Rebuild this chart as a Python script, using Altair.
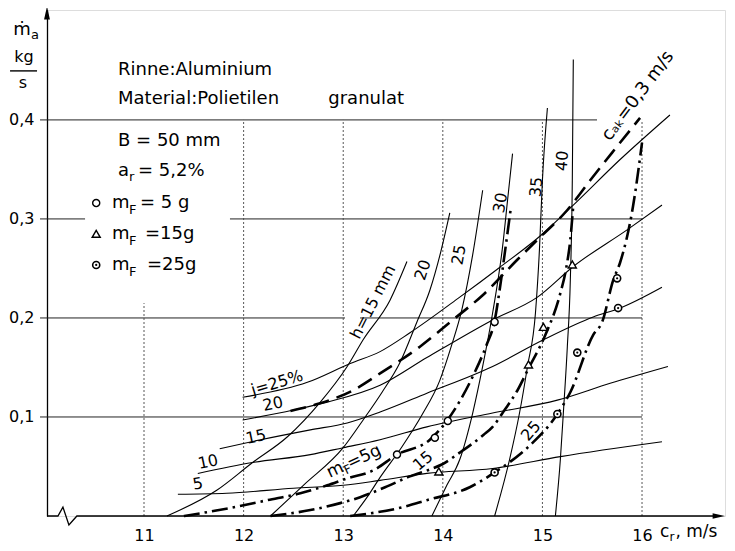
import altair as alt
import pandas as pd

FONT = "DejaVu Sans"
X_MIN, X_MAX = 10.026, 16.833
Y_MAX = 0.511
X_TICKS = [11, 12, 13, 14, 15, 16]
Y_TICKS = [0.1, 0.2, 0.3, 0.4]

# thin solid curves, h = 15 ... 40 mm
H15_CR = [11.23, 11.73, 12.09, 12.44, 12.77, 13.04, 13.20, 13.47, 13.64]
H15_MA = [0.0, 0.026, 0.054, 0.080, 0.115, 0.151, 0.178, 0.218, 0.257]
H20_CR = [12.27, 12.60, 13.00, 13.20, 13.39, 13.57, 13.74, 13.87, 13.98, 14.07]
H20_MA = [0.0, 0.031, 0.069, 0.097, 0.125, 0.155, 0.196, 0.228, 0.267, 0.306]
H25_CR = [13.10, 13.24, 13.37, 13.59, 13.79, 13.97, 14.09, 14.19, 14.30, 14.40]
H25_MA = [0.0, 0.019, 0.039, 0.070, 0.102, 0.137, 0.173, 0.208, 0.264, 0.329]
H30_CR = [13.89, 14.04, 14.17, 14.30, 14.40, 14.50, 14.60, 14.65, 14.70]
H30_MA = [0.0, 0.031, 0.057, 0.104, 0.151, 0.205, 0.272, 0.319, 0.366]
H35_CR = [14.52, 14.67, 14.77, 14.85, 14.93, 14.97, 15.00, 15.05]
H35_MA = [0.0, 0.057, 0.104, 0.151, 0.205, 0.269, 0.339, 0.412]
H40_CR = [15.13, 15.18, 15.21, 15.25, 15.28, 15.30, 15.31]
H40_MA = [0.0, 0.057, 0.104, 0.171, 0.238, 0.339, 0.461]

# thin solid curves, j = 5 ... 25 %
J25_CR = [11.99, 12.64, 13.07, 13.37, 13.67, 14.17, 14.57, 14.98, 15.31, 15.78, 16.28]
J25_MA = [0.120, 0.135, 0.154, 0.166, 0.185, 0.221, 0.251, 0.283, 0.314, 0.360, 0.405]
J20_CR = [11.99, 12.50, 12.84, 13.37, 13.84, 14.50, 14.95, 15.31, 15.85, 16.20]
J20_MA = [0.097, 0.107, 0.115, 0.132, 0.160, 0.198, 0.221, 0.252, 0.289, 0.314]
J15_CR = [11.76, 12.17, 12.67, 13.04, 13.37, 13.84, 14.50, 15.01, 15.51, 15.78, 16.20]
J15_MA = [0.068, 0.077, 0.087, 0.094, 0.105, 0.124, 0.151, 0.178, 0.201, 0.210, 0.231]
J10_CR = [11.54, 12.09, 12.67, 13.00, 13.37, 13.84, 14.50, 15.15, 15.68, 16.26]
J10_MA = [0.043, 0.054, 0.062, 0.069, 0.077, 0.090, 0.104, 0.117, 0.134, 0.151]
J05_CR = [11.34, 11.83, 12.50, 13.00, 13.37, 13.84, 14.50, 15.18, 16.20]
J05_MA = [0.022, 0.023, 0.028, 0.031, 0.036, 0.043, 0.048, 0.060, 0.075]

# long-dash curve c_ak = 0.3 m/s
CAK_CR = [12.47, 12.74, 13.10, 13.37, 13.77, 14.10, 14.40, 14.75, 14.95, 15.25, 15.48, 15.70, 15.98]
CAK_MA = [0.106, 0.113, 0.127, 0.144, 0.171, 0.198, 0.223, 0.259, 0.279, 0.309, 0.339, 0.367, 0.402]

# dash-dot curves m_F = 5, 15, 25 g
MF5_CR = [11.40, 11.86, 12.24, 12.57, 12.84, 13.04, 13.30, 13.54, 13.87, 14.04, 14.32, 14.44, 14.52, 14.57, 14.62, 14.68]
MF5_MA = [0.0, 0.008, 0.016, 0.023, 0.031, 0.038, 0.046, 0.062, 0.077, 0.096, 0.145, 0.173, 0.197, 0.228, 0.264, 0.309]
MF15_CR = [12.27, 12.67, 12.97, 13.17, 13.42, 13.67, 13.87, 13.99, 14.17, 14.41, 14.50, 14.62, 14.75, 14.86, 15.03, 15.18, 15.24, 15.28, 15.31]
MF15_MA = [0.0, 0.006, 0.013, 0.019, 0.029, 0.040, 0.047, 0.052, 0.064, 0.082, 0.090, 0.107, 0.127, 0.149, 0.183, 0.225, 0.251, 0.279, 0.314]
MF25_CR = [13.07, 13.60, 13.84, 14.27, 14.52, 14.85, 15.15, 15.28, 15.51, 15.60, 15.71, 15.78, 15.91, 16.00]
MF25_MA = [0.0, 0.009, 0.016, 0.029, 0.044, 0.069, 0.103, 0.125, 0.183, 0.196, 0.238, 0.256, 0.313, 0.377]

# measured points
P5_CR = [13.54, 13.92, 14.05, 14.52]
P5_MA = [0.062, 0.079, 0.096, 0.196]
P15_CR = [13.96, 14.86, 15.01, 15.30]
P15_MA = [0.045, 0.153, 0.191, 0.254]
P25_CR = [14.52, 15.15, 15.35, 15.76, 15.75]
P25_MA = [0.044, 0.103, 0.165, 0.210, 0.240]

# legend symbols
LEG_CR = 10.52
LEG_MA = [0.316, 0.285, 0.2535]

# grid segments
HG_MA = [0.4, 0.3, 0.3, 0.2, 0.2, 0.1]
HG_FROM = [9.956, 9.956, 11.863, 9.956, 13.169, 9.956]
HG_TO = [15.548, 10.408, 16.0, 13.018, 16.0, 16.0]
VG_CR = [11, 12, 13, 14, 15, 16]
VG_TOP = [0.215, 0.4, 0.4, 0.4, 0.4, 0.4]

# x axis line with break
AX_CR = [10.026, 10.136, 10.186, 10.246, 10.326, 16.76]
AX_MA = [0.0, 0.0, 0.009, -0.009, 0.0, 0.0]

# texts
LEFT_TEXT = ["Rinne:Aluminium", "Material:Polietilen", "granulat", "B = 50 mm",
             "a", "r", "= 5,2%",
             "m", "F", "= 5 g", "m", "F", "=15g", "m", "F", "=25g",
             "c", "r", ", m/s"]
LEFT_CR = [10.739, 10.739, 12.85, 10.739,
           10.739, 10.849, 10.940,
           10.679, 10.849, 10.960, 10.679, 10.849, 11.010, 10.679, 10.849, 11.030,
           16.181, 16.276, 16.336]
LEFT_MA = [0.4455, 0.4162, 0.4162, 0.3737,
           0.3434, 0.3384, 0.3434,
           0.3111, 0.3051, 0.3111, 0.2798, 0.2737, 0.2798, 0.2485, 0.2424, 0.2485,
           -0.0212, -0.0252, -0.0212]
LEFT_SIZE = [18, 18, 18, 18,
             18, 13, 18,
             18, 13, 18, 18, 13, 18, 18, 13, 18,
             17, 12, 17]

TITLE_TEXT = ["ṁ", "a", "kg", "s"]
TITLE_CR = [9.775, 9.906, 9.795, 9.785]
TITLE_MA = [0.4859, 0.4818, 0.4586, 0.4323]
TITLE_SIZE = [18, 13, 16, 16]
FRAC_CR = [9.655, 9.926]
FRAC_MA = 0.4495

ROT_TEXT = ["h=15 mm", "20", "25", "30", "35", "40",
            "j=25%", "20", "15", "10", "5",
            "m", "F", "=5g", "15", "25", "cₐₖ=0,3 m/s"]
ROT_CR = [13.30, 13.801, 14.163, 14.58, 14.94, 15.20,
          12.335, 12.295, 12.124, 11.643, 11.542,
          12.918, 13.044, 13.209, 13.801, 14.886, 15.960]
ROT_MA = [0.2162, 0.2485, 0.2636, 0.3162, 0.3323, 0.3586,
          0.1343, 0.1131, 0.0798, 0.0545, 0.0323,
          0.0465, 0.0470, 0.0596, 0.0556, 0.0859, 0.4242]
ROT_ANGLE = [297, 288, 280, 280, 275, 275,
             343, 348, 348, 348, 350,
             335, 335, 335, 320, 310, 307]
ROT_SIZE = [16, 16, 16, 16, 16, 16,
            16, 16, 16, 16, 16,
            17, 12, 17, 16, 16, 18]


def curves(named):
    rows = []
    for name, (cs, ms) in named.items():
        for i, (c, m) in enumerate(zip(cs, ms)):
            rows.append({"c": c, "m": m, "curve": name, "i": i})
    return pd.DataFrame(rows)


thin_df = curves({
    "h15": (H15_CR, H15_MA), "h20": (H20_CR, H20_MA), "h25": (H25_CR, H25_MA),
    "h30": (H30_CR, H30_MA), "h35": (H35_CR, H35_MA), "h40": (H40_CR, H40_MA),
    "j25": (J25_CR, J25_MA), "j20": (J20_CR, J20_MA), "j15": (J15_CR, J15_MA),
    "j10": (J10_CR, J10_MA), "j05": (J05_CR, J05_MA),
})
cak_df = curves({"cak": (CAK_CR, CAK_MA)})
mf_df = curves({"mf5": (MF5_CR, MF5_MA), "mf15": (MF15_CR, MF15_MA), "mf25": (MF25_CR, MF25_MA)})

xs = alt.Scale(domain=[X_MIN, X_MAX], nice=False, zero=False)
ys = alt.Scale(domain=[0, Y_MAX], nice=False, zero=False)
x_axis = alt.Axis(values=X_TICKS, title=None, ticks=False, tickSize=0, domain=False, grid=False,
                  labelFont=FONT, labelFontSize=16, labelColor="black", labelPadding=11)
y_axis = alt.Axis(values=Y_TICKS, title=None, ticks=False, tickSize=0, domain=True,
                  domainColor="black", domainWidth=1.3, grid=False,
                  labelFont=FONT, labelFontSize=16, labelColor="black", labelPadding=13,
                  labelExpr="replace(format(datum.value, '.1f'), '.', ',')")


def X(f="c"):
    return alt.X(f"{f}:Q", scale=xs, axis=x_axis)


def Y(f="m"):
    return alt.Y(f"{f}:Q", scale=ys, axis=y_axis)


hgrid = alt.Chart(pd.DataFrame({"m": HG_MA, "c": HG_FROM, "c2": HG_TO})).mark_rule(
    color="#222", strokeWidth=1).encode(x=X(), x2="c2:Q", y=Y())
vgrid = alt.Chart(pd.DataFrame({"c": VG_CR, "m": [0.0] * 6, "m2": VG_TOP})).mark_rule(
    color="#444", strokeWidth=0.9, strokeDash=[2, 2]).encode(x=X(), y=Y(), y2="m2:Q")
axis_line = alt.Chart(pd.DataFrame({"c": AX_CR, "m": AX_MA, "i": range(len(AX_CR))})).mark_line(
    color="black", strokeWidth=1.3).encode(x=X(), y=Y(), order="i:Q")
arrows = alt.Chart(pd.DataFrame({"c": [16.77], "m": [0.0]})).mark_point(
    shape="M-1,-0.45L1,0L-1,0.45Z", filled=True, color="black", size=150, opacity=1).encode(x=X(), y=Y())
arrow_y = alt.Chart(pd.DataFrame({"c": [X_MIN], "m": [0.508]})).mark_point(
    shape="M-0.45,1L0,-1L0.45,1Z", filled=True, color="black", size=170, opacity=1).encode(x=X(), y=Y())
frac = alt.Chart(pd.DataFrame({"c": [FRAC_CR[0]], "c2": [FRAC_CR[1]], "m": [FRAC_MA]})).mark_rule(
    color="black", strokeWidth=1.4).encode(x=X(), x2="c2:Q", y=Y())

thin = alt.Chart(thin_df).mark_line(color="black", strokeWidth=1.1, interpolate="monotone").encode(
    x=X(), y=Y(), detail="curve:N", order="i:Q")
cak = alt.Chart(cak_df).mark_line(color="black", strokeWidth=2.6, strokeDash=[16, 8],
                                  interpolate="monotone").encode(x=X(), y=Y(), order="i:Q")
mf = alt.Chart(mf_df).mark_line(color="black", strokeWidth=2.6, strokeDash=[16, 5, 2.5, 5],
                                interpolate="monotone").encode(x=X(), y=Y(), detail="curve:N", order="i:Q")

p5 = alt.Chart(pd.DataFrame({"c": P5_CR + [LEG_CR], "m": P5_MA + [LEG_MA[0]]})).mark_point(
    shape="circle", filled=True, fill="white", stroke="black", strokeWidth=1.4, size=50, opacity=1).encode(x=X(), y=Y())
p15 = alt.Chart(pd.DataFrame({"c": P15_CR + [LEG_CR], "m": P15_MA + [LEG_MA[1]]})).mark_point(
    shape="triangle-up", filled=True, fill="white", stroke="black", strokeWidth=1.4, size=65, opacity=1).encode(x=X(), y=Y())
p25_df = pd.DataFrame({"c": P25_CR + [LEG_CR], "m": P25_MA + [LEG_MA[2]]})
p25 = alt.Chart(p25_df).mark_point(
    shape="circle", filled=True, fill="white", stroke="black", strokeWidth=1.6, size=50, opacity=1).encode(x=X(), y=Y())
p25dot = alt.Chart(p25_df).mark_point(
    shape="circle", filled=True, color="black", size=5, opacity=1).encode(x=X(), y=Y())

left_txt = alt.Chart(pd.DataFrame({"text": LEFT_TEXT, "c": LEFT_CR, "m": LEFT_MA, "size": LEFT_SIZE})).mark_text(
    align="left", baseline="alphabetic", font=FONT, color="black").encode(
    x=X(), y=Y(), text="text:N", size=alt.Size("size:Q", scale=None, legend=None))
title_txt = alt.Chart(pd.DataFrame({"text": TITLE_TEXT, "c": TITLE_CR, "m": TITLE_MA, "size": TITLE_SIZE})).mark_text(
    align="center", baseline="alphabetic", font=FONT, color="black").encode(
    x=X(), y=Y(), text="text:N", size=alt.Size("size:Q", scale=None, legend=None))
rot_txt = alt.Chart(pd.DataFrame({"text": ROT_TEXT, "c": ROT_CR, "m": ROT_MA,
                                  "angle": ROT_ANGLE, "size": ROT_SIZE})).mark_text(
    align="center", baseline="middle", font=FONT, color="black").encode(
    x=X(), y=Y(), text="text:N", size=alt.Size("size:Q", scale=None, legend=None),
    angle=alt.Angle("angle:Q", scale=None))

chart = alt.layer(
    hgrid, vgrid, axis_line, arrows, arrow_y, frac,
    thin, cak, mf, p5, p15, p25, p25dot,
    left_txt, title_txt, rot_txt,
).properties(
    width=678, height=506,
    padding={"left": 39, "top": 2, "right": 2, "bottom": 27},
    autosize=alt.AutoSizeParams(type="none"),
    background="white",
).configure_view(stroke=None).configure(font=FONT)

chart.save("out.html", embed_options={"renderer": "svg", "actions": False})
